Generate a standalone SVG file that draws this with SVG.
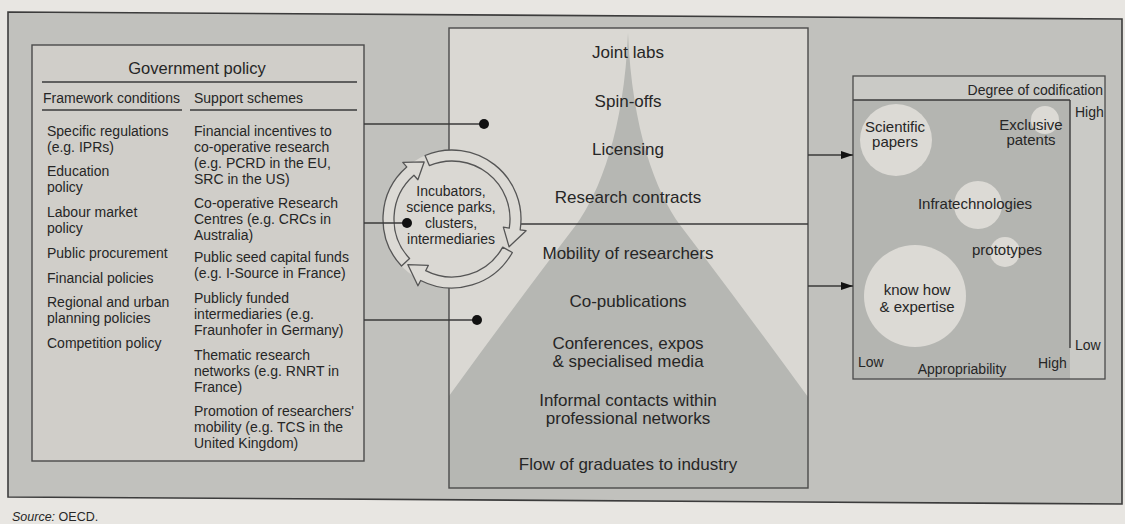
<svg xmlns="http://www.w3.org/2000/svg" width="1125" height="524" viewBox="0 0 1125 524">
<style>
text{font-family:"Liberation Sans",Arial,sans-serif;fill:#262626}
.b{font-size:14px}
.t{font-size:16.5px}
.c{font-size:17px;text-anchor:middle}
.r{font-size:14px;text-anchor:middle}
.q{font-size:15px;text-anchor:middle}
.a{font-size:14px}
.ln{stroke:#3a3a3a;stroke-width:1.4;fill:none}
.box{stroke:#4a4a4a;stroke-width:1.4}
.ring{fill:#dcdad5;stroke:#555;stroke-width:1.3;stroke-linejoin:round}
.bub{fill:#dcdad5}
</style>
<defs>
<marker id="ah" viewBox="0 0 12 8" refX="12" refY="4" markerWidth="12" markerHeight="8" markerUnits="userSpaceOnUse" orient="auto">
<path d="M0,0 L12,4 L0,8 Z" fill="#111"/>
</marker>
</defs>
<rect x="0" y="0" width="1125" height="524" fill="#e8e6e2"/>
<polygon id="frame" points="8,12 1122,19 1122,504 8,497" fill="#c1c1bd" stroke="#3c3c3c" stroke-width="1.6"/>

<g id="government-policy">
<rect class="box" x="32" y="45" width="332" height="416" fill="#d0cec9"/>
<text class="t" x="197" y="74" text-anchor="middle">Government policy</text>
<line class="ln" x1="42" y1="82" x2="357" y2="82"/>
<text class="b" x="43" y="103">Framework conditions</text>
<text class="b" x="194" y="103">Support schemes</text>
<line class="ln" x1="42" y1="110" x2="182" y2="110"/>
<line class="ln" x1="190" y1="110" x2="357" y2="110"/>
<text class="b" x="47" y="136">Specific regulations</text>
<text class="b" x="47" y="152">(e.g. IPRs)</text>
<text class="b" x="47" y="176">Education</text>
<text class="b" x="47" y="192">policy</text>
<text class="b" x="47" y="217">Labour market</text>
<text class="b" x="47" y="233">policy</text>
<text class="b" x="47" y="258">Public procurement</text>
<text class="b" x="47" y="283">Financial policies</text>
<text class="b" x="47" y="307">Regional and urban</text>
<text class="b" x="47" y="323">planning policies</text>
<text class="b" x="47" y="348">Competition policy</text>
<text class="b" x="194" y="136">Financial incentives to</text>
<text class="b" x="194" y="152">co-operative research</text>
<text class="b" x="194" y="168">(e.g. PCRD in the EU,</text>
<text class="b" x="194" y="184">SRC in the US)</text>
<text class="b" x="194" y="208">Co-operative Research</text>
<text class="b" x="194" y="224">Centres (e.g. CRCs in</text>
<text class="b" x="194" y="240">Australia)</text>
<text class="b" x="194" y="262">Public seed capital funds</text>
<text class="b" x="194" y="278">(e.g. I-Source in France)</text>
<text class="b" x="194" y="303">Publicly funded</text>
<text class="b" x="194" y="319">intermediaries (e.g.</text>
<text class="b" x="194" y="335">Fraunhofer in Germany)</text>
<text class="b" x="194" y="360">Thematic research</text>
<text class="b" x="194" y="376">networks (e.g. RNRT in</text>
<text class="b" x="194" y="392">France)</text>
<text class="b" x="194" y="416">Promotion of researchers'</text>
<text class="b" x="194" y="432">mobility (e.g. TCS in the</text>
<text class="b" x="194" y="448">United Kingdom)</text>
</g>

<g id="channels">
<rect x="449" y="28" width="359" height="460" fill="#dad8d3"/>
<path d="M628,33 C624,130 600,192 576,225 Q515,305 449,396 L449,488 L808,488 L808,397 Q741,305 680,225 C656,192 632,130 628,33 Z" fill="#b6b7b3"/>
<rect class="box" x="449" y="28" width="359" height="460" fill="none"/>
<line class="ln" x1="449" y1="224" x2="808" y2="224"/>
<text class="c" x="628" y="58">Joint labs</text>
<text class="c" x="628" y="107">Spin-offs</text>
<text class="c" x="628" y="155">Licensing</text>
<text class="c" x="628" y="203">Research contracts</text>
<text class="c" x="628" y="259">Mobility of researchers</text>
<text class="c" x="628" y="307">Co-publications</text>
<text class="c" x="628" y="349">Conferences, expos</text>
<text class="c" x="628" y="367">&amp; specialised media</text>
<text class="c" x="628" y="406">Informal contacts within</text>
<text class="c" x="628" y="424">professional networks</text>
<text class="c" x="628" y="470">Flow of graduates to industry</text>
</g>

<g id="intermediaries">
<circle cx="452" cy="219" r="69" fill="#dad8d3"/>
<path class="ring" d="M401.53,266.06 A69,69 0 0 1 406.73,166.93 L402.79,162.40 L424.16,161.93 L417.88,179.76 L413.95,175.23 A58,58 0 0 0 409.58,258.56 Z"/>
<path class="ring" d="M425.04,155.49 A69,69 0 0 1 520.15,229.79 L526.08,230.73 L509.07,246.84 L503.36,227.13 L509.29,228.07 A58,58 0 0 0 429.34,165.61 Z"/>
<path class="ring" d="M512.35,252.45 A69,69 0 0 1 420.67,280.48 L417.95,285.83 L407.89,264.68 L428.39,265.33 L425.67,270.68 A58,58 0 0 0 502.73,247.12 Z"/>
<text class="r" x="451" y="196">Incubators,</text>
<text class="r" x="451" y="212">science parks,</text>
<text class="r" x="451" y="228">clusters,</text>
<text class="r" x="451" y="244">intermediaries</text>
</g>

<g id="knowledge">
<rect x="853" y="76" width="252" height="303" fill="#cacac6"/>
<rect x="853" y="100" width="217" height="279" fill="#b4b5b1"/>
<line class="ln" x1="853" y1="100" x2="1070" y2="100"/>
<line class="ln" x1="1070" y1="100" x2="1070" y2="348"/>
<rect x="853" y="76" width="252" height="303" fill="none" stroke="#4a4a4a" stroke-width="1.3"/>
<circle class="bub" cx="896" cy="140" r="36"/>
<circle class="bub" cx="1045" cy="120" r="14"/>
<circle class="bub" cx="978" cy="205" r="24"/>
<circle class="bub" cx="1005" cy="252" r="15"/>
<circle class="bub" cx="915" cy="296" r="51"/>
<text class="q" x="895" y="132">Scientific</text>
<text class="q" x="895" y="147">papers</text>
<text class="q" x="1031" y="130">Exclusive</text>
<text class="q" x="1031" y="145">patents</text>
<text class="q" x="975" y="209">Infratechnologies</text>
<text class="q" x="1007" y="255">prototypes</text>
<text class="q" x="917" y="295">know how</text>
<text class="q" x="917" y="312">&amp; expertise</text>
<text class="a" x="1103" y="95" text-anchor="end">Degree of codification</text>
<text class="a" x="1075" y="117">High</text>
<text class="a" x="1075" y="350">Low</text>
<text class="a" x="858" y="367">Low</text>
<text class="a" x="1038" y="368">High</text>
<text class="a" x="962" y="374" text-anchor="middle">Appropriability</text>
</g>

<g id="connectors">
<line class="ln" x1="364" y1="124" x2="484" y2="124"/>
<circle cx="484" cy="124" r="5" fill="#111"/>
<line class="ln" x1="364" y1="223" x2="407" y2="223"/>
<circle cx="407" cy="223" r="5" fill="#111"/>
<line class="ln" x1="364" y1="320" x2="477" y2="320"/>
<circle cx="477" cy="320" r="5" fill="#111"/>
<line class="ln" x1="808" y1="155" x2="853" y2="155" marker-end="url(#ah)"/>
<line class="ln" x1="808" y1="286" x2="853" y2="286" marker-end="url(#ah)"/>
</g>

<text x="12" y="521" style="font-size:12.5px"><tspan font-style="italic">Source:</tspan> OECD.</text>
</svg>
